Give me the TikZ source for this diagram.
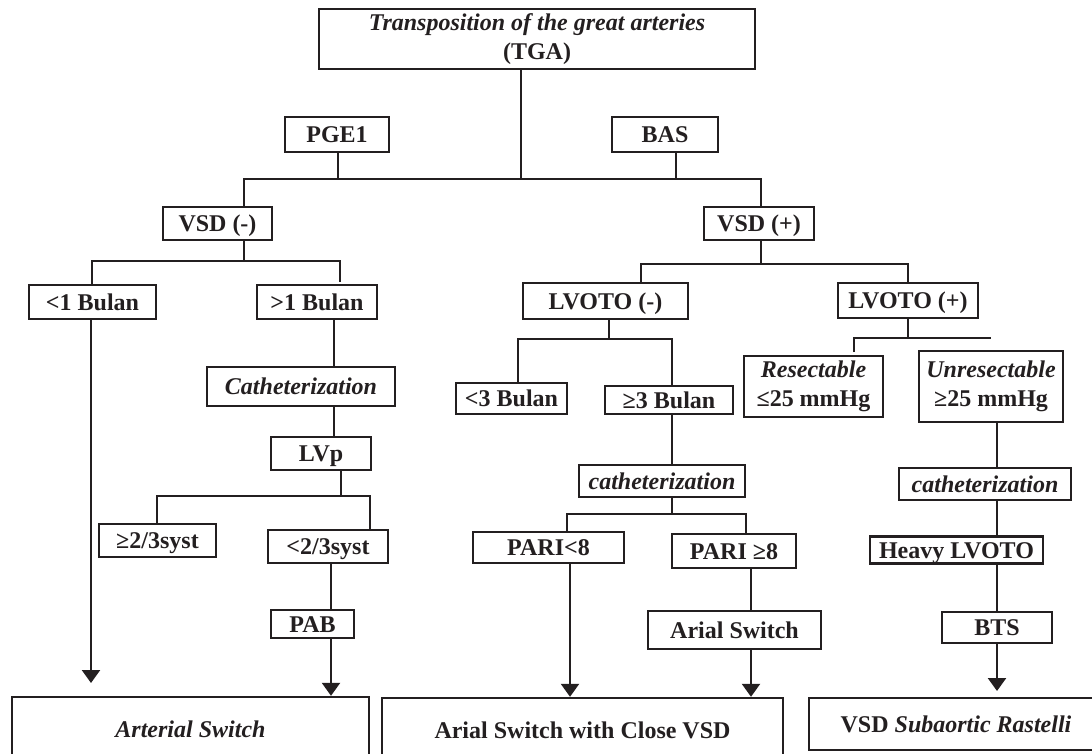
\documentclass[tikz,border=0pt]{standalone}
\usepackage{fontspec}
\setmainfont{Liberation Serif}
\usetikzlibrary{arrows.meta}
\definecolor{ink}{RGB}{35,31,32}

\begin{document}
\begin{tikzpicture}[x=1pt,y=-1pt,line width=2.4pt,ink,>={Triangle[length=13pt,width=18pt]},
    box/.style={draw,inner sep=0pt,text height=16pt,text depth=0pt,font=\bfseries\fontsize{24}{28.5}\selectfont},
    box2/.style={draw,inner sep=0pt,align=center,font=\bfseries\fontsize{24}{29}\selectfont}]
        \useasboundingbox(0,0)rectangle(1092,753);
        \clip(0,0)rectangle(1092,753);
        \node[box2,minimum width=436pt,minimum height=60pt](tga)at(537,39){\textit{Transposition of the great arteries}\\(TGA)};
        \node[box,minimum width=104pt,minimum height=35pt](pge)at(337,134.5){PGE1};
        \node[box,minimum width=106pt,minimum height=35pt](bas)at(665,134.5){BAS};
        \node[box,minimum width=109pt,minimum height=33pt](vsdn)at(217.5,223.5){VSD (-)};
        \node[box,minimum width=110pt,minimum height=33pt](vsdp)at(759,223.5){VSD (+)};
        \node[box,minimum width=127pt,minimum height=34pt](lt1)at(92.5,302){<1 Bulan};
        \node[box,minimum width=120pt,minimum height=34pt](gt1)at(317,302){>1 Bulan};
        \node[box,minimum width=188pt,minimum height=39pt](cathA)at(301,386.5){\itshape Catheterization};
        \node[box,minimum width=100pt,minimum height=33pt](lvp)at(321,453.5){LVp};
        \node[box,minimum width=117pt,minimum height=33pt](ge23)at(157.5,540.5){≥2/3syst};
        \node[box,minimum width=120pt,minimum height=33pt](lt23)at(328,546.5){<2/3syst};
        \node[box,minimum width=83pt,minimum height=28pt](pab)at(312.5,624){PAB};
        \node[box,minimum width=165pt,minimum height=36pt](lvn)at(605.5,301){LVOTO (-)};
        \node[box,minimum width=140pt,minimum height=35pt](lvpos)at(908,300.5){LVOTO (+)};
        \node[box,minimum width=111pt,minimum height=31pt](lt3)at(511.5,398.5){<3 Bulan};
        \node[box,minimum width=128pt,minimum height=28pt](ge3)at(669,400){≥3 Bulan};
        \node[box,minimum width=166pt,minimum height=32pt](cathB)at(662,481){\itshape catheterization};
        \node[box,minimum width=151pt,minimum height=31pt](parilt)at(548.5,547.5){PARI<8};
        \node[box,minimum width=124pt,minimum height=34pt](parige)at(734,551){PARI ≥8};
        \node[box,minimum width=173pt,minimum height=38pt](arsw)at(734.5,630){Arial Switch};
        \node[box2,minimum width=139pt,minimum height=61pt](resect)at(813.5,386.5){\textit{Resectable}\\≤25 mmHg};
        \node[box2,minimum width=144pt,minimum height=71pt](unres)at(991,386.5){\textit{Unresectable}\\≥25 mmHg};
        \node[box,minimum width=172pt,minimum height=32pt](cathC)at(985,484){\itshape catheterization};
        \node[box,minimum width=173pt,minimum height=27pt](heavy)at(956.5,550){Heavy LVOTO};
        \node[box,minimum width=110pt,minimum height=31pt](bts)at(997,627.5){BTS};
        \node[box,minimum width=357pt,minimum height=65pt](art)at(190.5,729.5){\itshape Arterial Switch};
        \node[box,minimum width=401pt,minimum height=64pt](close)at(582.5,730){Arial Switch with Close VSD};
        \node[box,minimum width=294pt,minimum height=52pt](rast)at(956,724){VSD \textit{Subaortic Rastelli}};
        \coordinate(f1)at(521,179);\coordinate(f1a)at(244,179);\coordinate(f1b)at(761,179);
        \coordinate(s1)at(338,179);\coordinate(s2)at(676,179);
        \draw(tga.south-|f1)--(f1);
        \draw(pge.south-|s1)--(s1);
        \draw(bas.south-|s2)--(s2);
        \draw(vsdn.north-|f1a)--(f1a)--(f1b)--(vsdp.north-|f1b);
        \coordinate(f2)at(244,261);\coordinate(f2a)at(92,261);\coordinate(f2b)at(340,261);\coordinate(k1)at(340,282);
        \draw(vsdn.south-|f2)--(f2);
        \draw(lt1.north-|f2a)--(f2a)--(f2b)--(k1);
        \coordinate(c1)at(334,0);
        \draw(gt1.south-|c1)--(cathA.north-|c1);
        \draw(cathA.south-|c1)--(lvp.north-|c1);
        \coordinate(f3)at(341,496);\coordinate(f3a)at(157,496);\coordinate(f3b)at(370,496);
        \draw(lvp.south-|f3)--(f3);
        \draw(ge23.north-|f3a)--(f3a)--(f3b)--(lt23.north-|f3b);
        \coordinate(c2)at(331,0);
        \draw(lt23.south-|c2)--(pab.north-|c2);
        \draw[->](pab.south-|c2)--(art.north-|c2);
        \coordinate(e1)at(91,683);
        \draw[->](lt1.south-|e1)--(e1);
        \coordinate(f4)at(761,264);\coordinate(f4a)at(641,264);\coordinate(f4b)at(908,264);
        \draw(vsdp.south-|f4)--(f4);
        \draw(lvn.north-|f4a)--(f4a)--(f4b)--(lvpos.north-|f4b);
        \coordinate(f5)at(609,339);\coordinate(f5a)at(518,339);\coordinate(f5b)at(672,339);
        \draw(lvn.south-|f5)--(f5);
        \draw(lt3.north-|f5a)--(f5a)--(f5b)--(ge3.north-|f5b);
        \draw(ge3.south-|f5b)--(cathB.north-|f5b);
        \coordinate(f6)at(672,514);\coordinate(f6a)at(567,514);\coordinate(f6b)at(746,514);
        \draw(cathB.south-|f6)--(f6);
        \draw(parilt.north-|f6a)--(f6a)--(f6b)--(parige.north-|f6b);
        \coordinate(c3)at(570,0);
        \draw[->](parilt.south-|c3)--(close.north-|c3);
        \coordinate(c4)at(751,0);
        \draw(parige.south-|c4)--(arsw.north-|c4);
        \draw[->](arsw.south-|c4)--(close.north-|c4);
        \coordinate(f7)at(908,338);\coordinate(f7a)at(854,338);\coordinate(f7b)at(991,338);\coordinate(k2)at(854,352);
        \draw(lvpos.south-|f7)--(f7);
        \draw(k2)--(f7a)--(f7b);
        \coordinate(c5)at(997,0);
        \draw(unres.south-|c5)--(cathC.north-|c5);
        \draw(cathC.south-|c5)--(heavy.north-|c5);
        \draw(heavy.south-|c5)--(bts.north-|c5);
        \coordinate(e2)at(997,691);
        \draw[->](bts.south-|c5)--(e2);
    \end{tikzpicture}
\end{document}
